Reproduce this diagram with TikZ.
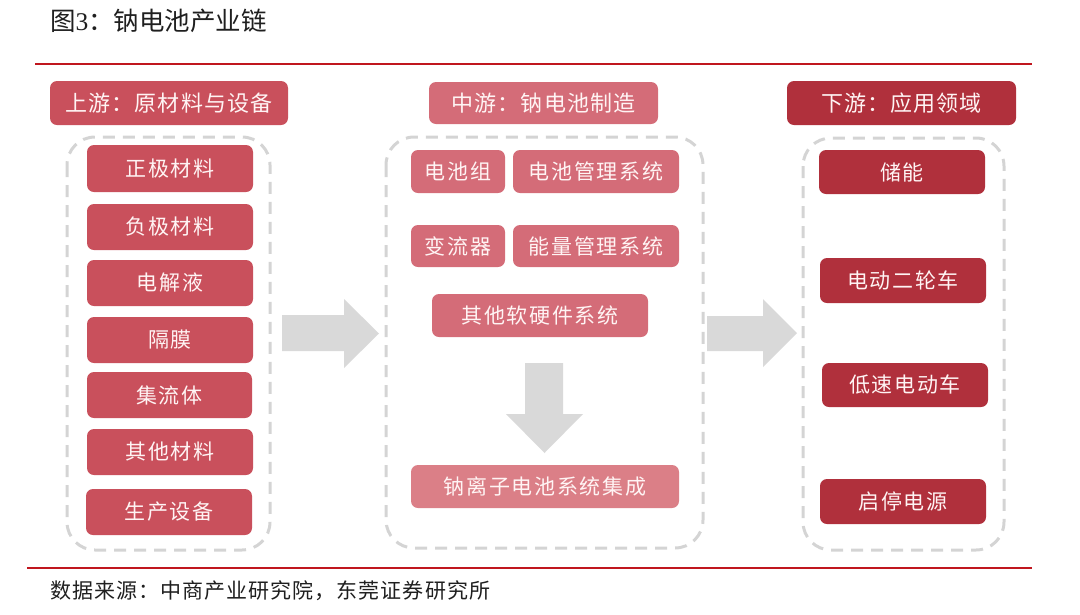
\documentclass[tikz,border=0pt]{standalone}
\usepackage{fontspec}
\setmainfont{Noto Sans CJK SC}
\newfontfamily\cjkbox[LetterSpace=8]{Noto Sans CJK SC}
\newfontfamily\cjkhead[LetterSpace=5]{Noto Sans CJK SC}
\newfontfamily\cjksrc[LetterSpace=5]{Noto Sans CJK SC}
\newfontfamily\latserif{Liberation Serif}
\definecolor{upred}{HTML}{C9505C}
\definecolor{midred}{HTML}{D46C78}
\definecolor{intred}{HTML}{DB7F87}
\definecolor{downred}{HTML}{B0303C}
\definecolor{rulered}{HTML}{C0161E}
\definecolor{grpgray}{HTML}{D4D4D4}
\definecolor{arrgray}{HTML}{D9D9D9}
\definecolor{boxtext}{HTML}{FFF4F4}
\tikzset{
  cbox/.style={rounded corners=7pt, inner sep=0pt, text=boxtext,
    font=\cjkbox\fontsize{21}{25}\selectfont},
  upbox/.style={cbox, fill=upred},
  midbox/.style={cbox, fill=midred},
  intbox/.style={cbox, fill=intred},
  downbox/.style={cbox, fill=downred},
  headbox/.style={font=\cjkhead\fontsize{22}{26}\selectfont},
  grp/.style={draw=grpgray, line width=3pt, dash pattern=on 12pt off 8pt, rounded corners=28pt},
  blockarrow/.style={fill=arrgray},
  rulerline/.style={draw=rulered, line width=2pt}
}
\begin{document}
\begin{tikzpicture}[x=1pt,y=-1pt]
\useasboundingbox (0,0) rectangle (1080,614);

% title and rules
\node[anchor=west, inner sep=0pt, text=black!88, font=\fontsize{25.5}{30}\selectfont] (title) at (50,21) {图{\latserif 3}：钠电池产业链};
\draw[rulerline] (35,64) -- (1032,64);
\draw[rulerline] (27,568) -- (1032,568);
\node[anchor=west, inner sep=0pt, text=black!88, font=\cjksrc\fontsize{21}{25}\selectfont] (source) at (50,591) {数据来源：中商产业研究院，东莞证券研究所};

% dashed groups
\draw[grp] (67,137) rectangle (270,550);
\draw[grp] (386,137) rectangle (703,548);
\draw[grp] (803,138) rectangle (1004,550);

% upstream
\node[upbox, headbox, minimum width=238pt, minimum height=44pt] (uphead) at (169,103) {上游：原材料与设备};
\node[upbox, minimum width=166pt, minimum height=47pt] (u1) at (170,168.5) {正极材料};
\node[upbox, minimum width=166pt, minimum height=46pt] (u2) at (170,227) {负极材料};
\node[upbox, minimum width=166pt, minimum height=46pt] (u3) at (170,283) {电解液};
\node[upbox, minimum width=166pt, minimum height=46pt] (u4) at (170,340) {隔膜};
\node[upbox, minimum width=165pt, minimum height=46pt] (u5) at (169.5,395) {集流体};
\node[upbox, minimum width=166pt, minimum height=46pt] (u6) at (170,452) {其他材料};
\node[upbox, minimum width=166pt, minimum height=46pt] (u7) at (169,512) {生产设备};

% midstream
\node[midbox, headbox, minimum width=229pt, minimum height=42pt] (midhead) at (543.5,103) {中游：钠电池制造};
\node[midbox, minimum width=94pt, minimum height=43pt] (m1) at (458,171.5) {电池组};
\node[midbox, minimum width=166pt, minimum height=43pt] (m2) at (596,171.5) {电池管理系统};
\node[midbox, minimum width=94pt, minimum height=42pt] (m3) at (458,246) {变流器};
\node[midbox, minimum width=166pt, minimum height=42pt] (m4) at (596,246) {能量管理系统};
\node[midbox, minimum width=216pt, minimum height=43pt] (m5) at (540,315.5) {其他软硬件系统};
\node[intbox, minimum width=268pt, minimum height=43pt] (m6) at (545,486.5) {钠离子电池系统集成};

% downstream
\node[downbox, headbox, minimum width=229pt, minimum height=44pt] (downhead) at (901.5,103) {下游：应用领域};
\node[downbox, minimum width=166pt, minimum height=44pt] (d1) at (902,172) {储能};
\node[downbox, minimum width=166pt, minimum height=45pt] (d2) at (903,280.5) {电动二轮车};
\node[downbox, minimum width=166pt, minimum height=44pt] (d3) at (905,385) {低速电动车};
\node[downbox, minimum width=166pt, minimum height=45pt] (d4) at (903,501.5) {启停电源};

% block arrows
\fill[blockarrow] (282,315) -- (344,315) -- (344,299) -- (379,333.5) -- (344,368) -- (344,351) -- (282,351) -- cycle;
\fill[blockarrow] (707,316) -- (763,316) -- (763,299) -- (797,333) -- (763,367) -- (763,351) -- (707,351) -- cycle;
\fill[blockarrow] (525,363) -- (563,363) -- (563,414) -- (583,414) -- (544.5,453) -- (506,414) -- (525,414) -- cycle;
\end{tikzpicture}
\end{document}
